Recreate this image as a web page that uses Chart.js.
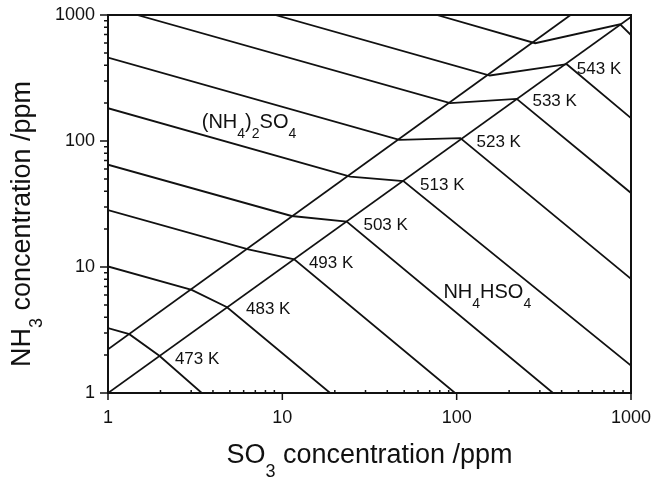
<!DOCTYPE html>
<html>
<head>
<meta charset="utf-8">
<script src="https://cdn.jsdelivr.net/npm/chart.js@4.4.1/dist/chart.umd.min.js"></script>
<style>
  html, body { margin: 0; padding: 0; background: #fff; }
</style>
</head>
<body>
<canvas id="c" width="654" height="477"></canvas>
<script>
// ── Dados (ppm) ─────────────────────────────────────────────
// cada curva de temperatura: início -> cruza linha A -> pico na linha B -> fim
const temps    = [473, 483, 493, 503, 513, 523, 533, 543, 553];
const startSO3 = [1, 1, 1, 1, 1, 1, 1.47, 9.1, 77];
const startNH3 = [3.27, 10.1, 28.3, 64.8, 182, 460, 1000, 1000, 1000];
const crossSO3 = [1.325, 3.02, 6.38, 11.3, 24.5, 46.9, 91.7, 155, 282];
const crossNH3 = [2.93, 6.59, 13.8, 25.4, 52.2, 102, 200, 331, 597];
const peakSO3  = [1.97, 4.82, 11.7, 23.4, 49.5, 105, 221, 428, 866];
const peakNH3  = [1.975, 4.79, 11.5, 22.9, 48.1, 105.4, 216, 407, 844];
const endSO3   = [3.45, 18.8, 97.9, 357, 1000, 1000, 1000, 1000, 1000];
const endNH3   = [1, 1, 1, 1, 1.65, 8.05, 38.7, 152, 694];

// linhas de fronteira entre as fases
const lineA_SO3 = [1, 450];
const lineA_NH3 = [2.22, 1000];
const lineB_SO3 = [1, 1000];
const lineB_NH3 = [1, 966];

const tickDecades = [1, 10, 100, 1000];

// posição (em ppm) dos rótulos de temperatura
const tempLabelSO3 = [2.42, 6.19, 14.2, 29.2, 61.7, 130, 272, 489];
const tempLabelNH3 = [1.70, 4.23, 9.89, 19.7, 41.0, 90.3, 189, 341];

const FONT = "'Liberation Sans', Arial, Helvetica, sans-serif";
const INK  = '#111';

const lineStyle = {
  showLine: true, borderColor: INK, borderWidth: 1.8,
  pointRadius: 0, fill: false, tension: 0
};

const toPts = (xs, ys) => xs.map((x, i) => ({ x, y: ys[i] }));

const datasets = temps.map((t, i) => ({
  label: t + ' K',
  data: toPts(
    [startSO3[i], crossSO3[i], peakSO3[i], endSO3[i]],
    [startNH3[i], crossNH3[i], peakNH3[i], endNH3[i]]
  ),
  ...lineStyle
}));
datasets.push({ label: 'A', data: toPts(lineA_SO3, lineA_NH3), ...lineStyle });
datasets.push({ label: 'B', data: toPts(lineB_SO3, lineB_NH3), ...lineStyle });

// ── Texto com subscritos ────────────────────────────────────
function drawRich(ctx, parts, x, y, size, subSize, subDy, align) {
  const fMain = `${size}px ${FONT}`;
  const fSub  = `${subSize}px ${FONT}`;
  let w = 0;
  parts.forEach(([t, sub]) => { ctx.font = sub ? fSub : fMain; w += ctx.measureText(t).width; });
  let cx = align === 'center' ? x - w / 2 : x;
  ctx.textBaseline = 'alphabetic';
  ctx.textAlign = 'left';
  parts.forEach(([t, sub]) => {
    ctx.font = sub ? fSub : fMain;
    ctx.fillText(t, cx, sub ? y + subDy : y);
    cx += ctx.measureText(t).width;
  });
}

const regionLabels = [
  { parts: [['(NH', 0], ['4', 1], [')', 0], ['2', 1], ['SO', 0], ['4', 1]], so3: 3.45, nh3: 126 },
  { parts: [['NH', 0], ['4', 1], ['HSO', 0], ['4', 1]], so3: 83.9, nh3: 5.66 }
];

const framePlugin = {
  id: 'frame',
  afterDatasetsDraw(chart) {
    const { ctx, chartArea: a, scales: { x, y } } = chart;
    ctx.save();
    ctx.strokeStyle = INK;
    ctx.fillStyle = INK;

    // moldura
    ctx.lineWidth = 2;
    ctx.strokeRect(a.left, a.top, a.right - a.left, a.bottom - a.top);

    // marcas dos eixos
    ctx.lineWidth = 1.5;
    ctx.beginPath();
    [1, 10, 100].forEach(d => {
      for (let m = 1; m <= 10; m++) {
        const v = d * m;
        const major = m === 1 || m === 10;
        const px = x.getPixelForValue(v);
        const py = y.getPixelForValue(v);
        if (major) {
          ctx.moveTo(px, a.bottom); ctx.lineTo(px, a.bottom + 7);
          ctx.moveTo(a.left, py);   ctx.lineTo(a.left - 8, py);
        } else {
          ctx.moveTo(px, a.bottom); ctx.lineTo(px, a.bottom - 3);
          ctx.moveTo(a.left, py);   ctx.lineTo(a.left - 4, py);
        }
      }
    });
    ctx.stroke();

    // rótulos de temperatura
    ctx.font = `17px ${FONT}`;
    ctx.textBaseline = 'alphabetic';
    tempLabelSO3.forEach((s, i) => {
      ctx.fillText(temps[i] + ' K', x.getPixelForValue(s), y.getPixelForValue(tempLabelNH3[i]));
    });

    // fases
    regionLabels.forEach(l => {
      drawRich(ctx, l.parts, x.getPixelForValue(l.so3), y.getPixelForValue(l.nh3), 20, 14, 10, 'left');
    });

    // títulos dos eixos
    drawRich(ctx, [['SO', 0], ['3', 1], [' concentration /ppm', 0]],
      (a.left + a.right) / 2, 463, 27, 18, 14, 'center');

    ctx.save();
    ctx.translate(30, (a.top + a.bottom) / 2 + 20);
    ctx.rotate(-Math.PI / 2);
    drawRich(ctx, [['NH', 0], ['3', 1], [' concentration /ppm', 0]], 0, 0, 27, 18, 12, 'center');
    ctx.restore();

    ctx.restore();
  }
};

const tickCb = v => tickDecades.includes(v) ? String(v) : '';

new Chart(document.getElementById('c'), {
  type: 'scatter',
  data: { datasets },
  options: {
    responsive: false,
    devicePixelRatio: 1,
    animation: false,
    layout: { padding: { top: 15, right: 23, left: 0, bottom: 0 } },
    plugins: { legend: { display: false }, tooltip: { enabled: false } },
    scales: {
      x: {
        type: 'logarithmic', min: 1, max: 1000, position: 'bottom',
        border: { display: false },
        grid: { display: false, drawTicks: false },
        ticks: { autoSkip: false, maxRotation: 0, padding: 14, color: INK,
                 font: { family: FONT, size: 18 }, callback: tickCb },
        afterFit: s => { s.height = 84; s.paddingLeft = 0; s.paddingRight = 0; }
      },
      y: {
        type: 'logarithmic', min: 1, max: 1000, position: 'left',
        border: { display: false },
        grid: { display: false, drawTicks: false },
        ticks: { autoSkip: false, padding: 13, color: INK,
                 font: { family: FONT, size: 18 }, callback: tickCb },
        afterFit: s => { s.width = 108; s.paddingTop = 0; s.paddingBottom = 0; }
      }
    }
  },
  plugins: [framePlugin]
});
</script>
</body>
</html>
